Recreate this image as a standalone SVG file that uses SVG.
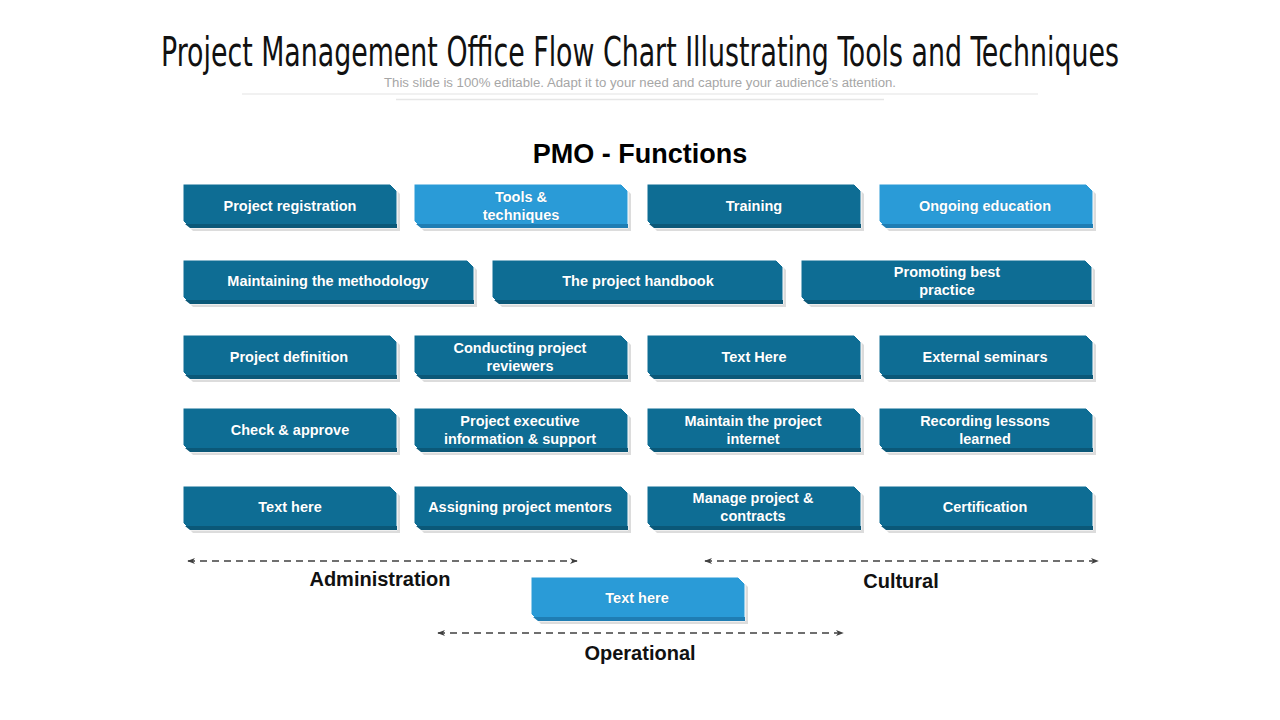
<svg xmlns="http://www.w3.org/2000/svg" xmlns:xlink="http://www.w3.org/1999/xlink" width="1280" height="720" viewBox="0 0 1280 720">
<style>
.title{font-family:"Liberation Sans Narrow","DejaVu Sans Condensed","Liberation Sans",sans-serif;font-size:34px;fill:#111}
.sub{font-family:"Liberation Sans",Arial,sans-serif;font-size:12px;fill:#a6a6a6}
.head{font-family:"Liberation Sans",Arial,sans-serif;font-size:27px;font-weight:bold;fill:#000}
.lbl{font-family:"Liberation Sans",Arial,sans-serif;font-size:20px;font-weight:bold;fill:#111}
.t{font-family:"Liberation Sans",Arial,sans-serif;font-size:14.5px;font-weight:bold;fill:#fff;text-anchor:middle;stroke:#0a3d55;stroke-width:0.6px;stroke-opacity:0.35;paint-order:stroke}
.sh{fill:#dcdcdc}
.dk{fill:#0e6d94;stroke:#fff;stroke-width:1}
.dkb{fill:#0b5878}
.lt{fill:#2a9bd7;stroke:#fff;stroke-width:1}
.ltb{fill:#1f7db3}
.conn{stroke:#404040;stroke-width:1.5;stroke-dasharray:7 5;fill:none}
</style>
<defs>
<path id="s" d="M0,0 H207 L214,7 V44 H7 L0,37 Z"/>
<path id="sb" d="M2,40 H214 V44 H7 Z"/>
<path id="l" d="M0,0 H284 L291,7 V44 H7 L0,37 Z"/>
<path id="lb" d="M2,40 H291 V44 H7 Z"/>
<marker id="ah" viewBox="0 0 10 10" refX="9" refY="5" markerWidth="8" markerHeight="8" orient="auto-start-reverse" markerUnits="userSpaceOnUse">
<path d="M0,1 L10,5 L0,9 L3,5 Z" fill="#404040"/>
</marker>
</defs>

<text class="title" transform="translate(640,66) scale(1,1.2)" x="0" y="0" text-anchor="middle" textLength="958" lengthAdjust="spacingAndGlyphs">Project Management Office Flow Chart Illustrating Tools and Techniques</text>
<text class="sub" x="640" y="87" text-anchor="middle" textLength="512" lengthAdjust="spacingAndGlyphs">This slide is 100% editable. Adapt it to your need and capture your audience’s attention.</text>
<line x1="242" y1="94" x2="1038" y2="94" stroke="#ececec" stroke-width="1.5"/>
<line x1="396" y1="99.5" x2="884" y2="99.5" stroke="#e6e6e6" stroke-width="1.5"/>

<text class="head" x="640" y="163" text-anchor="middle">PMO - Functions</text>

<!-- Row 1 -->
<g id="n1" transform="translate(183,184)"><use href="#s" class="sh" x="3" y="3"/><use href="#s" class="dk"/><use href="#sb" class="dkb"/><text class="t" x="107" y="27">Project registration</text></g>
<g id="n2" transform="translate(414,184)"><use href="#s" class="sh" x="3" y="3"/><use href="#s" class="lt"/><use href="#sb" class="ltb"/><text class="t" x="107" y="18">Tools &amp;</text><text class="t" x="107" y="36">techniques</text></g>
<g id="n3" transform="translate(647,184)"><use href="#s" class="sh" x="3" y="3"/><use href="#s" class="dk"/><use href="#sb" class="dkb"/><text class="t" x="107" y="27">Training</text></g>
<g id="n4" transform="translate(879,184)"><use href="#s" class="sh" x="3" y="3"/><use href="#s" class="lt"/><use href="#sb" class="ltb"/><text class="t" x="106" y="27">Ongoing education</text></g>

<!-- Row 2 -->
<g id="n5" transform="translate(183,260)"><use href="#l" class="sh" x="3" y="3"/><use href="#l" class="dk"/><use href="#lb" class="dkb"/><text class="t" x="145" y="26">Maintaining the methodology</text></g>
<g id="n6" transform="translate(492,260)"><use href="#l" class="sh" x="3" y="3"/><use href="#l" class="dk"/><use href="#lb" class="dkb"/><text class="t" x="146" y="26">The project handbook</text></g>
<g id="n7" transform="translate(801,260)"><use href="#l" class="sh" x="3" y="3"/><use href="#l" class="dk"/><use href="#lb" class="dkb"/><text class="t" x="146" y="17">Promoting best</text><text class="t" x="146" y="35">practice</text></g>

<!-- Row 3 -->
<g id="n8" transform="translate(183,335)"><use href="#s" class="sh" x="3" y="3"/><use href="#s" class="dk"/><use href="#sb" class="dkb"/><text class="t" x="106" y="27">Project definition</text></g>
<g id="n9" transform="translate(414,335)"><use href="#s" class="sh" x="3" y="3"/><use href="#s" class="dk"/><use href="#sb" class="dkb"/><text class="t" x="106" y="18">Conducting project</text><text class="t" x="106" y="36">reviewers</text></g>
<g id="n10" transform="translate(647,335)"><use href="#s" class="sh" x="3" y="3"/><use href="#s" class="dk"/><use href="#sb" class="dkb"/><text class="t" x="107" y="27">Text Here</text></g>
<g id="n11" transform="translate(879,335)"><use href="#s" class="sh" x="3" y="3"/><use href="#s" class="dk"/><use href="#sb" class="dkb"/><text class="t" x="106" y="27">External seminars</text></g>

<!-- Row 4 -->
<g id="n12" transform="translate(183,408)"><use href="#s" class="sh" x="3" y="3"/><use href="#s" class="dk"/><use href="#sb" class="dkb"/><text class="t" x="107" y="27">Check &amp; approve</text></g>
<g id="n13" transform="translate(414,408)"><use href="#s" class="sh" x="3" y="3"/><use href="#s" class="dk"/><use href="#sb" class="dkb"/><text class="t" x="106" y="18">Project executive</text><text class="t" x="106" y="36">information &amp; support</text></g>
<g id="n14" transform="translate(647,408)"><use href="#s" class="sh" x="3" y="3"/><use href="#s" class="dk"/><use href="#sb" class="dkb"/><text class="t" x="106" y="18">Maintain the project</text><text class="t" x="106" y="36">internet</text></g>
<g id="n15" transform="translate(879,408)"><use href="#s" class="sh" x="3" y="3"/><use href="#s" class="dk"/><use href="#sb" class="dkb"/><text class="t" x="106" y="18">Recording lessons</text><text class="t" x="106" y="36">learned</text></g>

<!-- Row 5 -->
<g id="n16" transform="translate(183,486)"><use href="#s" class="sh" x="3" y="3"/><use href="#s" class="dk"/><use href="#sb" class="dkb"/><text class="t" x="107" y="26">Text here</text></g>
<g id="n17" transform="translate(414,486)"><use href="#s" class="sh" x="3" y="3"/><use href="#s" class="dk"/><use href="#sb" class="dkb"/><text class="t" x="106" y="26">Assigning  project mentors</text></g>
<g id="n18" transform="translate(647,486)"><use href="#s" class="sh" x="3" y="3"/><use href="#s" class="dk"/><use href="#sb" class="dkb"/><text class="t" x="106" y="17">Manage project &amp;</text><text class="t" x="106" y="35">contracts</text></g>
<g id="n19" transform="translate(879,486)"><use href="#s" class="sh" x="3" y="3"/><use href="#s" class="dk"/><use href="#sb" class="dkb"/><text class="t" x="106" y="26">Certification</text></g>

<!-- Bottom -->
<g id="n20" transform="translate(531,577)"><use href="#s" class="sh" x="3" y="3"/><use href="#s" class="lt"/><use href="#sb" class="ltb"/><text class="t" x="106" y="26">Text here</text></g>

<g id="connectors">
<line class="conn" x1="188" y1="561" x2="577" y2="561" marker-start="url(#ah)" marker-end="url(#ah)"/>
<line class="conn" x1="705" y1="561" x2="1098" y2="561" marker-start="url(#ah)" marker-end="url(#ah)"/>
<line class="conn" x1="438" y1="633" x2="843" y2="633" marker-start="url(#ah)" marker-end="url(#ah)"/>
</g>

<text class="lbl" x="380" y="586" text-anchor="middle">Administration</text>
<text class="lbl" x="901" y="588" text-anchor="middle">Cultural</text>
<text class="lbl" x="640" y="660" text-anchor="middle">Operational</text>
</svg>
